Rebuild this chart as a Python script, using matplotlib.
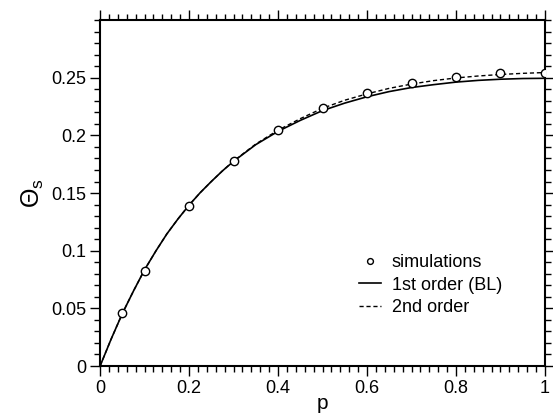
import matplotlib
matplotlib.use('Agg')
import matplotlib.pyplot as plt
from matplotlib.ticker import MultipleLocator, FuncFormatter

plt.rcParams['font.family'] = ['Liberation Sans', 'DejaVu Sans']
plt.rcParams['mathtext.fontset'] = 'custom'
plt.rcParams['mathtext.rm'] = 'Liberation Sans'
plt.rcParams['mathtext.it'] = 'Liberation Sans'

# simulation points
p_sim = [0.05, 0.1, 0.2, 0.3, 0.4, 0.5, 0.6, 0.7, 0.8, 0.9, 1.0]
theta_sim = [0.0457, 0.0827, 0.139, 0.178, 0.205, 0.224, 0.237, 0.245, 0.251, 0.2538, 0.2545]

# curves
p_curve = [0.0, 0.025, 0.05, 0.075, 0.1, 0.125, 0.15, 0.175, 0.2, 0.225, 0.25, 0.275,
           0.3, 0.35, 0.4, 0.45, 0.5, 0.55, 0.6, 0.65, 0.7, 0.75, 0.8, 0.85, 0.9, 0.95, 1.0]
theta_1st = [0.0, 0.0235, 0.0455, 0.065, 0.0835, 0.0995, 0.1145, 0.1275, 0.1395, 0.1503,
             0.160, 0.1692, 0.1775, 0.192, 0.2035, 0.213, 0.2215, 0.228, 0.2335, 0.238,
             0.2415, 0.244, 0.2462, 0.2477, 0.2487, 0.2493, 0.2495]
theta_2nd = [0.0, 0.0235, 0.0455, 0.065, 0.0835, 0.0995, 0.1145, 0.1275, 0.1395, 0.1503,
             0.160, 0.1692, 0.1778, 0.1925, 0.2045, 0.2145, 0.2235, 0.2305, 0.236, 0.2408,
             0.2445, 0.2475, 0.2498, 0.2515, 0.2528, 0.2538, 0.2545]

fig = plt.figure(figsize=(5.53, 4.18), dpi=100)
ax = fig.add_axes([0.181, 0.1244, 0.8045, 0.8276])

ax.plot(p_sim, theta_sim, 'o', mfc='white', mec='black', ms=6, mew=1.0,
        label='simulations', zorder=3)
ax.plot(p_curve, theta_1st, '-', color='black', lw=1.2, label='1st order (BL)')
ax.plot(p_curve, theta_2nd, '--', color='black', lw=1.0, dashes=(3, 2), label='2nd order')

ax.set_xlim(0, 1)
ax.set_ylim(0, 0.3)
ax.set_yticks([0, 0.05, 0.1, 0.15, 0.2, 0.25])
ax.xaxis.set_major_locator(MultipleLocator(0.2))
ax.xaxis.set_minor_locator(MultipleLocator(0.02))
ax.yaxis.set_minor_locator(MultipleLocator(0.01))
fmt = FuncFormatter(lambda v, pos: '%g' % round(v, 3))
ax.xaxis.set_major_formatter(fmt)
ax.yaxis.set_major_formatter(fmt)

ax.tick_params(which='both', direction='out', top=True, right=True,
               labeltop=False, labelright=False, width=1.0)
ax.tick_params(which='major', length=7, labelsize=13, pad=3)
ax.tick_params(which='minor', length=4)
for s in ax.spines.values():
    s.set_linewidth(1.5)

ax.set_xlabel('p', fontsize=15, labelpad=-2)
ax.set_ylabel(r'$\Theta_\mathrm{s}$', fontsize=18, labelpad=4, rotation=90)

leg = ax.legend(loc='center left', bbox_to_anchor=(0.546, 0.234), frameon=False,
                fontsize=13, handlelength=1.2, handletextpad=0.6, labelspacing=0.3,
                markerscale=0.7)

fig.savefig('out.png', dpi=100)
